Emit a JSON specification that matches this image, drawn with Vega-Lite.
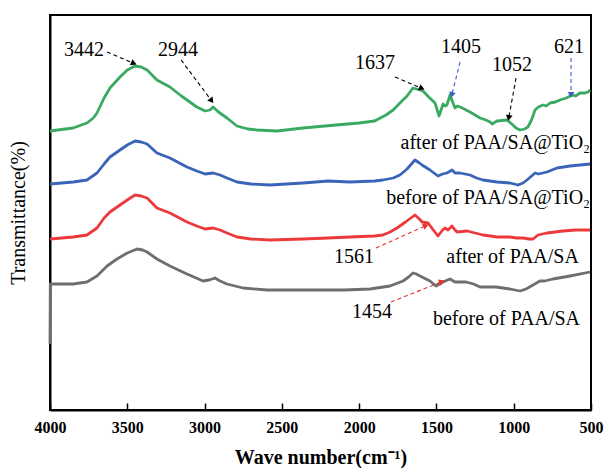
{
  "$schema": "https://vega.github.io/schema/vega-lite/v6.json",
  "width": 541,
  "height": 395,
  "autosize": {"type": "none"},
  "padding": {"left": 50, "top": 15, "right": 15, "bottom": 58},
  "background": "white",
  "config": {
    "view": {"stroke": "black", "strokeWidth": 2},
    "font": "'Liberation Serif', 'Times New Roman', serif"
  },
  "resolve": {"scale": {"color": "independent"}},
  "datasets": {
    "spectra": [
      {"sample":"after of PAA/SA@TiO2","wn":4000,"T":279},{"sample":"after of PAA/SA@TiO2","wn":3850,"T":282},{"sample":"after of PAA/SA@TiO2","wn":3761,"T":287},{"sample":"after of PAA/SA@TiO2","wn":3720,"T":292},{"sample":"after of PAA/SA@TiO2","wn":3696,"T":297},{"sample":"after of PAA/SA@TiO2","wn":3650,"T":312},{"sample":"after of PAA/SA@TiO2","wn":3612,"T":322},{"sample":"after of PAA/SA@TiO2","wn":3547,"T":333},{"sample":"after of PAA/SA@TiO2","wn":3500,"T":340},{"sample":"after of PAA/SA@TiO2","wn":3450,"T":344},{"sample":"after of PAA/SA@TiO2","wn":3410,"T":343},{"sample":"after of PAA/SA@TiO2","wn":3372,"T":340},{"sample":"after of PAA/SA@TiO2","wn":3308,"T":330},{"sample":"after of PAA/SA@TiO2","wn":3224,"T":323},{"sample":"after of PAA/SA@TiO2","wn":3150,"T":314},{"sample":"after of PAA/SA@TiO2","wn":3114,"T":310},{"sample":"after of PAA/SA@TiO2","wn":3050,"T":303},{"sample":"after of PAA/SA@TiO2","wn":2997,"T":299},{"sample":"after of PAA/SA@TiO2","wn":2965,"T":300},{"sample":"after of PAA/SA@TiO2","wn":2945,"T":303},{"sample":"after of PAA/SA@TiO2","wn":2910,"T":298},{"sample":"after of PAA/SA@TiO2","wn":2855,"T":292},{"sample":"after of PAA/SA@TiO2","wn":2790,"T":284},{"sample":"after of PAA/SA@TiO2","wn":2720,"T":281},{"sample":"after of PAA/SA@TiO2","wn":2661,"T":280},{"sample":"after of PAA/SA@TiO2","wn":2531,"T":279},{"sample":"after of PAA/SA@TiO2","wn":2363,"T":282},{"sample":"after of PAA/SA@TiO2","wn":2150,"T":285},{"sample":"after of PAA/SA@TiO2","wn":2000,"T":287},{"sample":"after of PAA/SA@TiO2","wn":1900,"T":289},{"sample":"after of PAA/SA@TiO2","wn":1826,"T":295},{"sample":"after of PAA/SA@TiO2","wn":1780,"T":300},{"sample":"after of PAA/SA@TiO2","wn":1736,"T":307},{"sample":"after of PAA/SA@TiO2","wn":1690,"T":314},{"sample":"after of PAA/SA@TiO2","wn":1652,"T":322},{"sample":"after of PAA/SA@TiO2","wn":1630,"T":321},{"sample":"after of PAA/SA@TiO2","wn":1587,"T":319},{"sample":"after of PAA/SA@TiO2","wn":1550,"T":313},{"sample":"after of PAA/SA@TiO2","wn":1509,"T":307},{"sample":"after of PAA/SA@TiO2","wn":1483,"T":294},{"sample":"after of PAA/SA@TiO2","wn":1470,"T":300},{"sample":"after of PAA/SA@TiO2","wn":1457,"T":306},{"sample":"after of PAA/SA@TiO2","wn":1440,"T":304},{"sample":"after of PAA/SA@TiO2","wn":1432,"T":305},{"sample":"after of PAA/SA@TiO2","wn":1412,"T":315},{"sample":"after of PAA/SA@TiO2","wn":1395,"T":308},{"sample":"after of PAA/SA@TiO2","wn":1380,"T":302},{"sample":"after of PAA/SA@TiO2","wn":1365,"T":304},{"sample":"after of PAA/SA@TiO2","wn":1347,"T":303},{"sample":"after of PAA/SA@TiO2","wn":1320,"T":301},{"sample":"after of PAA/SA@TiO2","wn":1283,"T":298},{"sample":"after of PAA/SA@TiO2","wn":1250,"T":295},{"sample":"after of PAA/SA@TiO2","wn":1218,"T":292},{"sample":"after of PAA/SA@TiO2","wn":1180,"T":290},{"sample":"after of PAA/SA@TiO2","wn":1153,"T":288},{"sample":"after of PAA/SA@TiO2","wn":1140,"T":286},{"sample":"after of PAA/SA@TiO2","wn":1108,"T":289},{"sample":"after of PAA/SA@TiO2","wn":1043,"T":290},{"sample":"after of PAA/SA@TiO2","wn":1005,"T":285},{"sample":"after of PAA/SA@TiO2","wn":985,"T":282},{"sample":"after of PAA/SA@TiO2","wn":959,"T":280},{"sample":"after of PAA/SA@TiO2","wn":930,"T":281},{"sample":"after of PAA/SA@TiO2","wn":908,"T":283},{"sample":"after of PAA/SA@TiO2","wn":885,"T":290},{"sample":"after of PAA/SA@TiO2","wn":862,"T":300},{"sample":"after of PAA/SA@TiO2","wn":840,"T":303},{"sample":"after of PAA/SA@TiO2","wn":811,"T":305},{"sample":"after of PAA/SA@TiO2","wn":790,"T":304},{"sample":"after of PAA/SA@TiO2","wn":765,"T":307},{"sample":"after of PAA/SA@TiO2","wn":730,"T":308},{"sample":"after of PAA/SA@TiO2","wn":701,"T":310},{"sample":"after of PAA/SA@TiO2","wn":660,"T":312},{"sample":"after of PAA/SA@TiO2","wn":623,"T":315},{"sample":"after of PAA/SA@TiO2","wn":600,"T":314},{"sample":"after of PAA/SA@TiO2","wn":571,"T":317},{"sample":"after of PAA/SA@TiO2","wn":539,"T":317},{"sample":"after of PAA/SA@TiO2","wn":520,"T":318},{"sample":"after of PAA/SA@TiO2","wn":506,"T":320},
      {"sample":"before of PAA/SA@TiO2","wn":4000,"T":226},{"sample":"before of PAA/SA@TiO2","wn":3850,"T":228},{"sample":"before of PAA/SA@TiO2","wn":3761,"T":230},{"sample":"before of PAA/SA@TiO2","wn":3696,"T":237},{"sample":"before of PAA/SA@TiO2","wn":3650,"T":246},{"sample":"before of PAA/SA@TiO2","wn":3612,"T":253},{"sample":"before of PAA/SA@TiO2","wn":3547,"T":260},{"sample":"before of PAA/SA@TiO2","wn":3500,"T":265},{"sample":"before of PAA/SA@TiO2","wn":3450,"T":269},{"sample":"before of PAA/SA@TiO2","wn":3410,"T":268},{"sample":"before of PAA/SA@TiO2","wn":3372,"T":266},{"sample":"before of PAA/SA@TiO2","wn":3308,"T":257},{"sample":"before of PAA/SA@TiO2","wn":3224,"T":252},{"sample":"before of PAA/SA@TiO2","wn":3114,"T":243},{"sample":"before of PAA/SA@TiO2","wn":3050,"T":239},{"sample":"before of PAA/SA@TiO2","wn":2997,"T":236},{"sample":"before of PAA/SA@TiO2","wn":2945,"T":237},{"sample":"before of PAA/SA@TiO2","wn":2900,"T":235},{"sample":"before of PAA/SA@TiO2","wn":2855,"T":232},{"sample":"before of PAA/SA@TiO2","wn":2790,"T":228},{"sample":"before of PAA/SA@TiO2","wn":2700,"T":226},{"sample":"before of PAA/SA@TiO2","wn":2577,"T":225},{"sample":"before of PAA/SA@TiO2","wn":2363,"T":227},{"sample":"before of PAA/SA@TiO2","wn":2200,"T":229},{"sample":"before of PAA/SA@TiO2","wn":2059,"T":228},{"sample":"before of PAA/SA@TiO2","wn":1900,"T":229},{"sample":"before of PAA/SA@TiO2","wn":1846,"T":230},{"sample":"before of PAA/SA@TiO2","wn":1780,"T":232},{"sample":"before of PAA/SA@TiO2","wn":1736,"T":235},{"sample":"before of PAA/SA@TiO2","wn":1690,"T":241},{"sample":"before of PAA/SA@TiO2","wn":1639,"T":250},{"sample":"before of PAA/SA@TiO2","wn":1610,"T":247},{"sample":"before of PAA/SA@TiO2","wn":1593,"T":245},{"sample":"before of PAA/SA@TiO2","wn":1542,"T":240},{"sample":"before of PAA/SA@TiO2","wn":1490,"T":234},{"sample":"before of PAA/SA@TiO2","wn":1460,"T":236},{"sample":"before of PAA/SA@TiO2","wn":1432,"T":237},{"sample":"before of PAA/SA@TiO2","wn":1399,"T":240},{"sample":"before of PAA/SA@TiO2","wn":1380,"T":237},{"sample":"before of PAA/SA@TiO2","wn":1347,"T":237},{"sample":"before of PAA/SA@TiO2","wn":1283,"T":235},{"sample":"before of PAA/SA@TiO2","wn":1240,"T":232},{"sample":"before of PAA/SA@TiO2","wn":1199,"T":230},{"sample":"before of PAA/SA@TiO2","wn":1108,"T":228},{"sample":"before of PAA/SA@TiO2","wn":1024,"T":227},{"sample":"before of PAA/SA@TiO2","wn":972,"T":225},{"sample":"before of PAA/SA@TiO2","wn":940,"T":227},{"sample":"before of PAA/SA@TiO2","wn":914,"T":230},{"sample":"before of PAA/SA@TiO2","wn":862,"T":237},{"sample":"before of PAA/SA@TiO2","wn":840,"T":236},{"sample":"before of PAA/SA@TiO2","wn":785,"T":238},{"sample":"before of PAA/SA@TiO2","wn":720,"T":242},{"sample":"before of PAA/SA@TiO2","wn":636,"T":244},{"sample":"before of PAA/SA@TiO2","wn":506,"T":246},
      {"sample":"after of PAA/SA","wn":4000,"T":171},{"sample":"after of PAA/SA","wn":3850,"T":173},{"sample":"after of PAA/SA","wn":3761,"T":175},{"sample":"after of PAA/SA","wn":3696,"T":182},{"sample":"after of PAA/SA","wn":3650,"T":192},{"sample":"after of PAA/SA","wn":3612,"T":198},{"sample":"after of PAA/SA","wn":3547,"T":205},{"sample":"after of PAA/SA","wn":3500,"T":210},{"sample":"after of PAA/SA","wn":3450,"T":215},{"sample":"after of PAA/SA","wn":3410,"T":214},{"sample":"after of PAA/SA","wn":3372,"T":212},{"sample":"after of PAA/SA","wn":3308,"T":202},{"sample":"after of PAA/SA","wn":3224,"T":197},{"sample":"after of PAA/SA","wn":3114,"T":188},{"sample":"after of PAA/SA","wn":3050,"T":184},{"sample":"after of PAA/SA","wn":2997,"T":181},{"sample":"after of PAA/SA","wn":2945,"T":182},{"sample":"after of PAA/SA","wn":2900,"T":180},{"sample":"after of PAA/SA","wn":2855,"T":177},{"sample":"after of PAA/SA","wn":2790,"T":173},{"sample":"after of PAA/SA","wn":2700,"T":171},{"sample":"after of PAA/SA","wn":2577,"T":170},{"sample":"after of PAA/SA","wn":2363,"T":171},{"sample":"after of PAA/SA","wn":2200,"T":172},{"sample":"after of PAA/SA","wn":2059,"T":173},{"sample":"after of PAA/SA","wn":1900,"T":174},{"sample":"after of PAA/SA","wn":1846,"T":175},{"sample":"after of PAA/SA","wn":1800,"T":178},{"sample":"after of PAA/SA","wn":1755,"T":182},{"sample":"after of PAA/SA","wn":1700,"T":188},{"sample":"after of PAA/SA","wn":1639,"T":195},{"sample":"after of PAA/SA","wn":1610,"T":191},{"sample":"after of PAA/SA","wn":1593,"T":188},{"sample":"after of PAA/SA","wn":1554,"T":187},{"sample":"after of PAA/SA","wn":1520,"T":180},{"sample":"after of PAA/SA","wn":1490,"T":174},{"sample":"after of PAA/SA","wn":1460,"T":180},{"sample":"after of PAA/SA","wn":1445,"T":182},{"sample":"after of PAA/SA","wn":1425,"T":180},{"sample":"after of PAA/SA","wn":1399,"T":184},{"sample":"after of PAA/SA","wn":1385,"T":181},{"sample":"after of PAA/SA","wn":1367,"T":178},{"sample":"after of PAA/SA","wn":1302,"T":179},{"sample":"after of PAA/SA","wn":1250,"T":177},{"sample":"after of PAA/SA","wn":1199,"T":175},{"sample":"after of PAA/SA","wn":1150,"T":174},{"sample":"after of PAA/SA","wn":1108,"T":173},{"sample":"after of PAA/SA","wn":1024,"T":173},{"sample":"after of PAA/SA","wn":980,"T":172},{"sample":"after of PAA/SA","wn":940,"T":172},{"sample":"after of PAA/SA","wn":900,"T":171},{"sample":"after of PAA/SA","wn":875,"T":171},{"sample":"after of PAA/SA","wn":843,"T":175},{"sample":"after of PAA/SA","wn":785,"T":177},{"sample":"after of PAA/SA","wn":681,"T":179},{"sample":"after of PAA/SA","wn":600,"T":180},{"sample":"after of PAA/SA","wn":506,"T":180},
      {"sample":"before of PAA/SA","wn":4000,"T":66},{"sample":"before of PAA/SA","wn":3998,"T":126},{"sample":"before of PAA/SA","wn":3850,"T":126},{"sample":"before of PAA/SA","wn":3761,"T":128},{"sample":"before of PAA/SA","wn":3696,"T":134},{"sample":"before of PAA/SA","wn":3631,"T":144},{"sample":"before of PAA/SA","wn":3567,"T":151},{"sample":"before of PAA/SA","wn":3500,"T":157},{"sample":"before of PAA/SA","wn":3437,"T":161},{"sample":"before of PAA/SA","wn":3400,"T":160},{"sample":"before of PAA/SA","wn":3372,"T":158},{"sample":"before of PAA/SA","wn":3308,"T":151},{"sample":"before of PAA/SA","wn":3224,"T":144},{"sample":"before of PAA/SA","wn":3114,"T":136},{"sample":"before of PAA/SA","wn":3010,"T":129},{"sample":"before of PAA/SA","wn":2970,"T":130},{"sample":"before of PAA/SA","wn":2933,"T":132},{"sample":"before of PAA/SA","wn":2900,"T":129},{"sample":"before of PAA/SA","wn":2855,"T":126},{"sample":"before of PAA/SA","wn":2751,"T":122},{"sample":"before of PAA/SA","wn":2596,"T":120},{"sample":"before of PAA/SA","wn":2383,"T":120},{"sample":"before of PAA/SA","wn":2100,"T":120},{"sample":"before of PAA/SA","wn":1930,"T":121},{"sample":"before of PAA/SA","wn":1800,"T":124},{"sample":"before of PAA/SA","wn":1716,"T":129},{"sample":"before of PAA/SA","wn":1680,"T":133},{"sample":"before of PAA/SA","wn":1652,"T":137},{"sample":"before of PAA/SA","wn":1630,"T":136},{"sample":"before of PAA/SA","wn":1606,"T":134},{"sample":"before of PAA/SA","wn":1542,"T":129},{"sample":"before of PAA/SA","wn":1503,"T":124},{"sample":"before of PAA/SA","wn":1457,"T":128},{"sample":"before of PAA/SA","wn":1412,"T":131},{"sample":"before of PAA/SA","wn":1380,"T":128},{"sample":"before of PAA/SA","wn":1308,"T":128},{"sample":"before of PAA/SA","wn":1260,"T":126},{"sample":"before of PAA/SA","wn":1218,"T":123},{"sample":"before of PAA/SA","wn":1115,"T":123},{"sample":"before of PAA/SA","wn":1024,"T":121},{"sample":"before of PAA/SA","wn":959,"T":119},{"sample":"before of PAA/SA","wn":920,"T":121},{"sample":"before of PAA/SA","wn":875,"T":125},{"sample":"before of PAA/SA","wn":830,"T":129},{"sample":"before of PAA/SA","wn":800,"T":129},{"sample":"before of PAA/SA","wn":746,"T":131},{"sample":"before of PAA/SA","wn":636,"T":134},{"sample":"before of PAA/SA","wn":506,"T":138}
    ],
    "arrows": [
      {"peak":"3442","wn":3631,"T":358,"wn2":3463,"T2":347,"kind":"black"},
      {"peak":"2944","wn":3152,"T":350,"wn2":2958,"T2":310,"kind":"black"},
      {"peak":"1637","wn":1768,"T":333,"wn2":1600,"T2":322,"kind":"black"},
      {"peak":"1405","wn":1347,"T":348,"wn2":1399,"T2":316,"kind":"blue"},
      {"peak":"1052","wn":985,"T":332,"wn2":1031,"T2":293,"kind":"black"},
      {"peak":"621","wn":629,"T":352,"wn2":629,"T2":316,"kind":"blue"},
      {"peak":"1561","wn":1891,"T":162,"wn2":1574,"T2":184,"kind":"red"},
      {"peak":"1454","wn":1794,"T":108,"wn2":1470,"T2":128,"kind":"red"}
    ],
    "peakLabels": [
      {"label":"3442","wn":3780,"T":360},
      {"label":"2944","wn":3172,"T":360},
      {"label":"1637","wn":1897,"T":347},
      {"label":"1405","wn":1341,"T":363},
      {"label":"1052","wn":1011,"T":345},
      {"label":"621","wn":642,"T":363},
      {"label":"1561","wn":2033,"T":153},
      {"label":"1454","wn":1917,"T":98}
    ],
    "sampleLabels": [
      {"label":"after of PAA/SA@TiO₂","wn":506,"T":267},
      {"label":"before of PAA/SA@TiO₂","wn":506,"T":212},
      {"label":"after of PAA/SA","wn":578,"T":153},
      {"label":"before of PAA/SA","wn":571,"T":91}
    ]
  },
  "layer": [
    {
      "data": {"name": "spectra"},
      "mark": {"type": "line", "strokeWidth": 2.8, "strokeJoin": "round"},
      "encoding": {
        "x": {
          "field": "wn", "type": "quantitative",
          "scale": {"domain": [500, 4000], "reverse": true, "nice": false, "zero": false},
          "axis": {
            "title": "Wave number(cm⁻¹)",
            "values": [4000, 3500, 3000, 2500, 2000, 1500, 1000, 500],
            "format": "d",
            "grid": false,
            "domainColor": "black", "domainWidth": 2,
            "tickColor": "black", "tickWidth": 1.5, "tickSize": -7,
            "labelFont": "'Liberation Serif', 'Times New Roman', serif", "labelFontWeight": "bold", "labelFontSize": 16, "labelColor": "black",
            "labelPadding": 16, "labelFlush": false,
            "titleFont": "'Liberation Serif', 'Times New Roman', serif", "titleFontWeight": "bold", "titleFontSize": 20, "titleColor": "black",
            "titlePadding": 12
          }
        },
        "y": {
          "field": "T", "type": "quantitative",
          "scale": {"domain": [0, 395], "nice": false, "zero": false},
          "axis": {
            "title": "Transmittance(%)",
            "grid": false, "ticks": false, "labels": false,
            "domainColor": "black", "domainWidth": 2,
            "titleFont": "'Liberation Serif', 'Times New Roman', serif", "titleFontWeight": "normal", "titleFontSize": 20, "titleColor": "black",
            "titlePadding": 22
          }
        },
        "color": {
          "field": "sample", "type": "nominal",
          "scale": {
            "domain": ["after of PAA/SA@TiO2", "before of PAA/SA@TiO2", "after of PAA/SA", "before of PAA/SA"],
            "range": ["#3aaa62", "#3a64b8", "#ec3a3c", "#6e6e6e"]
          },
          "legend": null
        },
        "order": {"field": "wn", "type": "quantitative", "sort": "descending"}
      }
    },
    {
      "data": {"name": "arrows"},
      "mark": {"type": "rule", "strokeWidth": 1.1, "strokeDash": [4, 3]},
      "encoding": {
        "x": {"field": "wn", "type": "quantitative"},
        "y": {"field": "T", "type": "quantitative"},
        "x2": {"field": "wn2"},
        "y2": {"field": "T2"},
        "color": {
          "field": "kind", "type": "nominal",
          "scale": {"domain": ["black", "blue", "red"], "range": ["#000000", "#3d5fc4", "#e8312f"]},
          "legend": null
        }
      }
    },
    {
      "data": {"name": "arrows"},
      "transform": [
        {"calculate": "atan2((datum.wn - datum.wn2) * 541 / 3500, datum.T2 - datum.T) * 180 / PI", "as": "ang"}
      ],
      "mark": {"type": "point", "shape": "triangle", "filled": true, "size": 45, "opacity": 1},
      "encoding": {
        "x": {"field": "wn2", "type": "quantitative"},
        "y": {"field": "T2", "type": "quantitative"},
        "angle": {"field": "ang", "type": "quantitative", "scale": null},
        "color": {
          "field": "kind", "type": "nominal",
          "scale": {"domain": ["black", "blue", "red"], "range": ["#000000", "#3d5fc4", "#e8312f"]},
          "legend": null
        }
      }
    },
    {
      "data": {"name": "peakLabels"},
      "mark": {"type": "text", "font": "'Liberation Serif', 'Times New Roman', serif", "fontSize": 20, "color": "black", "align": "center", "baseline": "middle"},
      "encoding": {
        "x": {"field": "wn", "type": "quantitative"},
        "y": {"field": "T", "type": "quantitative"},
        "text": {"field": "label"}
      }
    },
    {
      "data": {"name": "sampleLabels"},
      "mark": {"type": "text", "font": "'Liberation Serif', 'Times New Roman', serif", "fontSize": 20, "color": "black", "align": "right", "baseline": "middle"},
      "encoding": {
        "x": {"field": "wn", "type": "quantitative"},
        "y": {"field": "T", "type": "quantitative"},
        "text": {"field": "label"}
      }
    }
  ]
}
